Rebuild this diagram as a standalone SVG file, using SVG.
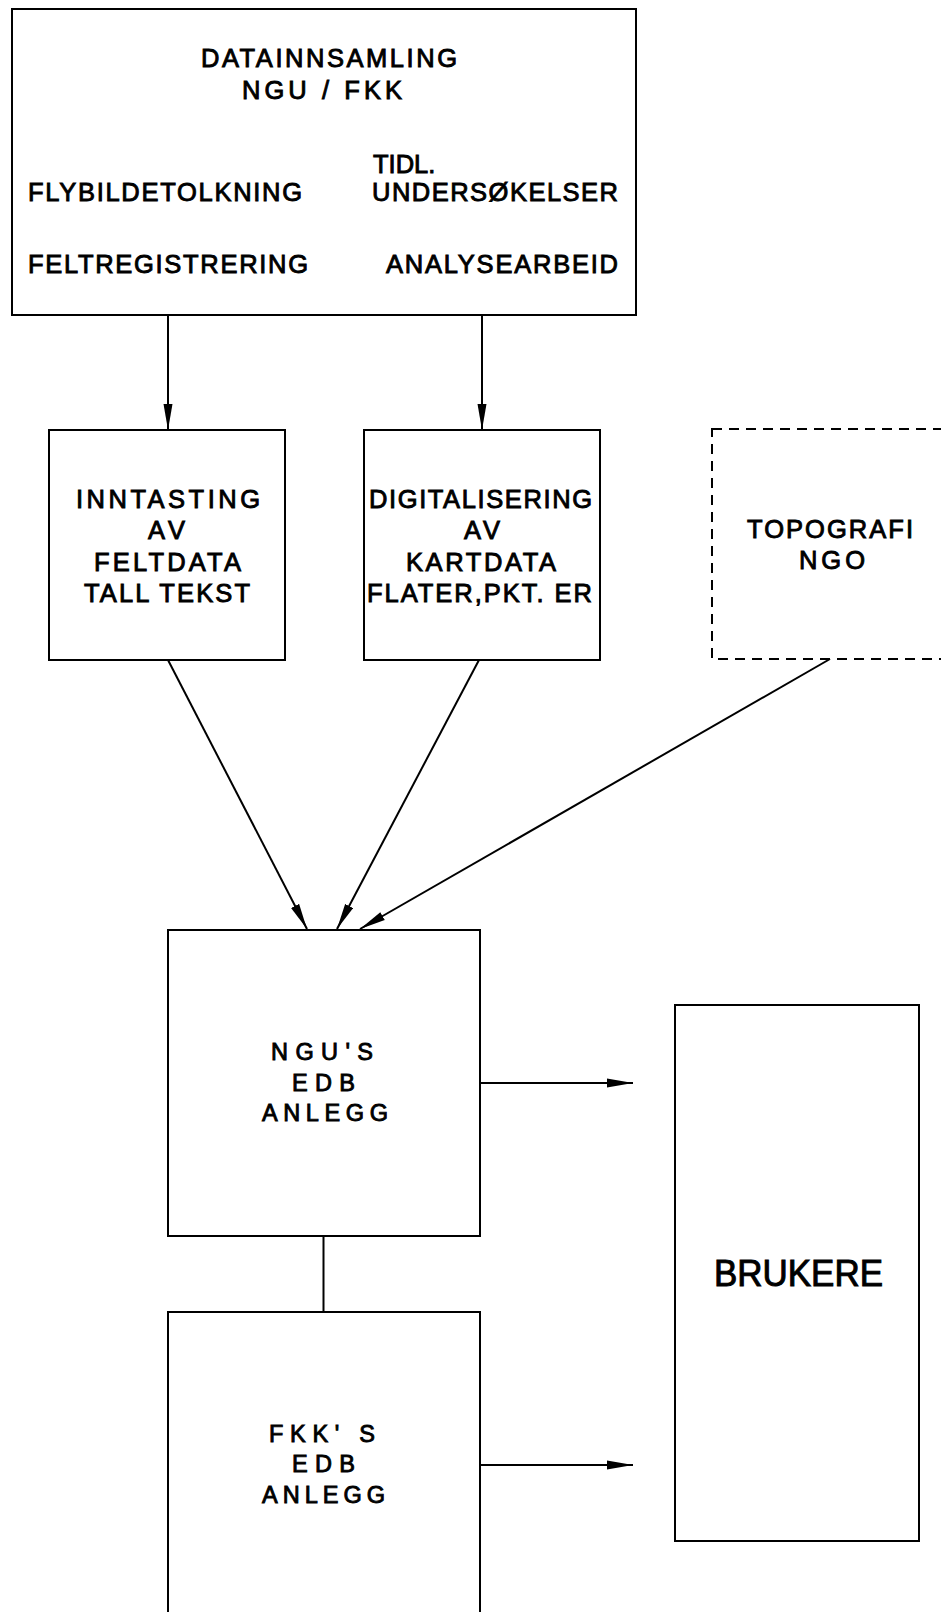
<svg xmlns="http://www.w3.org/2000/svg" width="941" height="1612" viewBox="0 0 941 1612">
<style>
.box{fill:none;stroke:#000;stroke-width:2}
.dash{fill:none;stroke:#000;stroke-width:2;stroke-dasharray:10 7}
.ln{fill:none;stroke:#000;stroke-width:2}
.t{font-family:"Liberation Sans",Arial,sans-serif;font-size:25.5px;fill:#000;stroke:#000;stroke-width:0.9}
.s{font-size:23.5px}
.b{font-size:37px;stroke-width:1}
</style>
<defs>
<marker id="ah" viewBox="0 0 26 10" markerWidth="26" markerHeight="10" refX="26" refY="5" orient="auto" markerUnits="userSpaceOnUse">
<path d="M0,0.5 L26,5 L0,9.5 Z" fill="#000"/>
</marker>
</defs>
<rect width="941" height="1612" fill="#fff"/>
<g id="datainnsamling">
<rect class="box" x="12" y="9" width="624" height="306"/>
<text class="t" x="201" y="67" textLength="256" lengthAdjust="spacing">DATAINNSAMLING</text>
<text class="t" x="242" y="99" textLength="160" lengthAdjust="spacing">NGU / FKK</text>
<text class="t" x="28" y="201" textLength="274" lengthAdjust="spacing">FLYBILDETOLKNING</text>
<text class="t" x="373" y="173">TIDL.</text>
<text class="t" x="372" y="201" textLength="246" lengthAdjust="spacing">UNDERSØKELSER</text>
<text class="t" x="28" y="273" textLength="280" lengthAdjust="spacing">FELTREGISTRERING</text>
<text class="t" x="386" y="273" textLength="232" lengthAdjust="spacing">ANALYSEARBEID</text>
</g>
<g id="inntasting">
<rect class="box" x="49" y="430" width="236" height="230"/>
<text class="t" x="76" y="508" textLength="184" lengthAdjust="spacing">INNTASTING</text>
<text class="t" x="148" y="539" textLength="37" lengthAdjust="spacing">AV</text>
<text class="t" x="94" y="571" textLength="147" lengthAdjust="spacing">FELTDATA</text>
<text class="t" x="84" y="602" textLength="166" lengthAdjust="spacing">TALL TEKST</text>
</g>
<g id="digitalisering">
<rect class="box" x="364" y="430" width="236" height="230"/>
<text class="t" x="369" y="508" textLength="223" lengthAdjust="spacing">DIGITALISERING</text>
<text class="t" x="464" y="539" textLength="36" lengthAdjust="spacing">AV</text>
<text class="t" x="406" y="571" textLength="150" lengthAdjust="spacing">KARTDATA</text>
<text class="t" x="367" y="602" textLength="225" lengthAdjust="spacing">FLATER,PKT. ER</text>
</g>
<g id="topografi">
<rect class="dash" x="712" y="429" width="250" height="230"/>
<text class="t" x="747" y="538" textLength="166" lengthAdjust="spacing">TOPOGRAFI</text>
<text class="t" x="799" y="569" textLength="66" lengthAdjust="spacing">NGO</text>
</g>
<g id="ngu-edb">
<rect class="box" x="168" y="930" width="312" height="306"/>
<text class="t s" x="271" y="1060" textLength="102" lengthAdjust="spacing">NGU'S</text>
<text class="t s" x="292" y="1091" textLength="63" lengthAdjust="spacing">EDB</text>
<text class="t s" x="262" y="1121" textLength="126" lengthAdjust="spacing">ANLEGG</text>
</g>
<g id="fkk-edb">
<rect class="box" x="168" y="1312" width="312" height="320"/>
<text class="t s" x="269" y="1442" textLength="106" lengthAdjust="spacing">FKK' S</text>
<text class="t s" x="292" y="1472" textLength="63" lengthAdjust="spacing">EDB</text>
<text class="t s" x="262" y="1503" textLength="123" lengthAdjust="spacing">ANLEGG</text>
</g>
<g id="brukere">
<rect class="box" x="675" y="1005" width="244" height="536"/>
<text class="t b" x="714" y="1286" textLength="169" lengthAdjust="spacingAndGlyphs">BRUKERE</text>
</g>
<g id="connectors">
<line class="ln" x1="168" y1="315" x2="168" y2="430" marker-end="url(#ah)"/>
<line class="ln" x1="482" y1="315" x2="482" y2="430" marker-end="url(#ah)"/>
<line class="ln" x1="168" y1="660" x2="307" y2="929" marker-end="url(#ah)"/>
<line class="ln" x1="479" y1="660" x2="337" y2="929" marker-end="url(#ah)"/>
<line class="ln" x1="830" y1="659" x2="360" y2="929" marker-end="url(#ah)"/>
<line class="ln" x1="480" y1="1083" x2="633" y2="1083" marker-end="url(#ah)"/>
<line class="ln" x1="480" y1="1465" x2="633" y2="1465" marker-end="url(#ah)"/>
<line class="ln" x1="323.5" y1="1236" x2="323.5" y2="1312"/>
</g>
</svg>
